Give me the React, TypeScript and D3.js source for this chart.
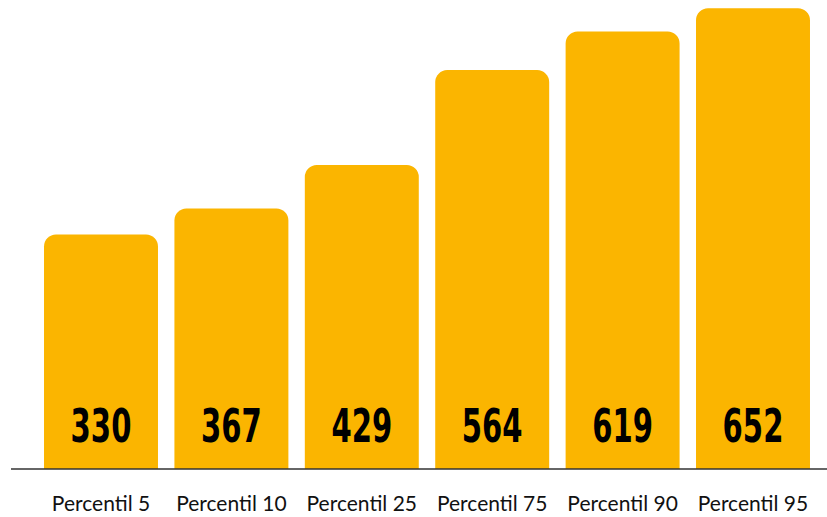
import React from 'react';
import * as d3 from 'd3';

const categories = ['Percentil 5', 'Percentil 10', 'Percentil 25', 'Percentil 75', 'Percentil 90', 'Percentil 95'];
const values = [330, 367, 429, 564, 619, 652];

const width = 827;
const height = 517;
const baseY = 469;
const barColor = '#FBB500';
const radius = 12;

export default function App() {
    const container = React.useRef<SVGGElement | null>(null);

    const x = d3.scaleBand<string>()
        .domain(categories)
        .range([35.8, 818.2])
        .paddingInner(0.126)
        .paddingOuter(0.063);

    const y = d3.scaleLinear()
        .domain([0, 652])
        .range([466.3, 8.3]);

    React.useEffect(() => {
        if (!container.current) return;
        const g = d3.select(container.current);
        g.selectAll('*').remove();

        const bw = x.bandwidth();

        // bars with rounded top corners
        g.selectAll('path.bar')
            .data(values)
            .enter()
            .append('path')
            .attr('class', 'bar')
            .attr('fill', barColor)
            .attr('d', (d, i) => {
                const x0 = x(categories[i]) as number;
                const x1 = x0 + bw;
                const top = y(d);
                const p = d3.path();
                p.moveTo(x0, baseY);
                p.lineTo(x0, top + radius);
                p.arcTo(x0, top, x0 + radius, top, radius);
                p.lineTo(x1 - radius, top);
                p.arcTo(x1, top, x1, top + radius, radius);
                p.lineTo(x1, baseY);
                p.closePath();
                return p.toString();
            });

        // axis line
        g.append('line')
            .attr('x1', 11)
            .attr('x2', width)
            .attr('y1', baseY)
            .attr('y2', baseY)
            .attr('stroke', '#333')
            .attr('stroke-width', 1.5);

        // value labels inside bars
        g.selectAll('text.value')
            .data(values)
            .enter()
            .append('text')
            .attr('class', 'value')
            .attr('text-anchor', 'middle')
            .attr('transform', (d, i) => `translate(${(x(categories[i]) as number) + bw / 2},442) scale(0.62,1)`)
            .style('font-family', 'DejaVu Sans')
            .style('font-weight', 'bold')
            .style('font-size', '47px')
            .style('fill', '#000')
            .text(d => d);

        // category labels
        g.selectAll('text.cat')
            .data(categories)
            .enter()
            .append('text')
            .attr('class', 'cat')
            .attr('text-anchor', 'middle')
            .attr('x', d => (x(d) as number) + bw / 2)
            .attr('y', 511)
            .style('font-family', 'Lato')
            .style('font-size', '21px')
            .style('fill', '#111')
            .text(d => d);
    }, []);

    return (
        <svg width={width} height={height} style={{ position: 'absolute', left: 0, top: 0, background: '#fff' }}>
            <g ref={container} />
        </svg>
    );
}
